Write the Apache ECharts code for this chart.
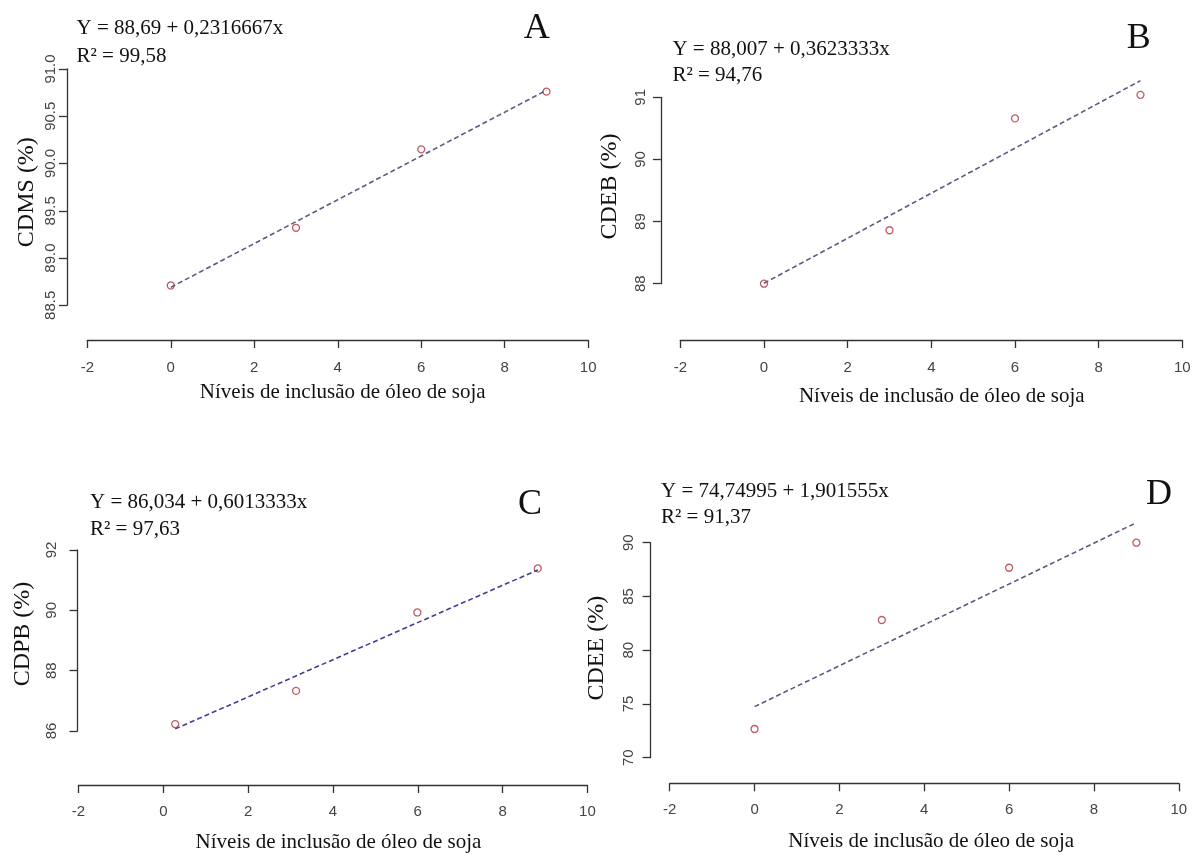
<!DOCTYPE html>
<html>
<head>
<meta charset="utf-8">
<script src="https://cdn.jsdelivr.net/npm/echarts@6/dist/echarts.min.js"></script>
<style>
html,body{margin:0;padding:0;background:#fff;}
#chart{width:1197px;height:856px;}
</style>
</head>
<body>
<div id="chart"></div>
<script>
// ---- data ----
const xLevels = [0, 3, 6, 9];
const cdms = [88.71, 89.32, 90.15, 90.76];
const cdeb = [88.0, 88.86, 90.66, 91.04];
const cdpbX = [0.28, 3.13, 5.99, 8.83];
const cdpb = [86.23, 87.33, 89.93, 91.39];
const cdee = [72.67, 82.81, 87.67, 90.0];

const trendAX = [0, 9], trendAY = [88.69, 90.775];
const trendBX = [0, 9], trendBY = [88.007, 91.268];
const trendCX = [0.28, 8.83], trendCY = [86.07, 91.34];
const trendDX = [0, 9], trendDY = [74.75, 91.86];

const yTitles = ['CDMS (%)', 'CDEB (%)', 'CDPB (%)', 'CDEE (%)'];
const xTitle = 'Níveis de inclusão de óleo de soja';
const equations = ['Y = 88,69 + 0,2316667x', 'Y = 88,007 + 0,3623333x', 'Y = 86,034 + 0,6013333x', 'Y = 74,74995 + 1,901555x'];
const r2Texts = ['R² = 99,58', 'R² = 94,76', 'R² = 97,63', 'R² = 91,37'];
const panelLetters = ['A', 'B', 'C', 'D'];
const yRanges = [[88.5, 91, 0.5], [88, 91, 1], [86, 92, 2], [70, 90, 5]];
const xRange = [-2, 10, 2];

// ---- layout (pixels) ----
const grids = [
  {left: 87.3, top: 69, width: 500.9, height: 236.3},
  {left: 680.3, top: 97.3, width: 502, height: 186.4},
  {left: 78.5, top: 550, width: 508.9, height: 181},
  {left: 669.7, top: 542.7, width: 509.1, height: 215}
];
const yOffsets = [20.3, 19.4, 1, 19.1];
const xOffsets = [34.7, 56.3, 54, 25.6];
const xLabelMargins = [20, 20, 19, 19];
const yLabelMargins = [9, 13, 18, 14];
const yNameGaps = [28, 39, 43, 42];
const yNamePads = [[0,10,0,0],[0,0,0,8],[0,0,0,13],[0,0,0,4]];
const xNamePads = [[0,0,0,10],[0,0,0,21],[0,0,0,11],[0,0,0,14]];
const xNameGaps = [42, 46, 47, 48];
const eqPos = [[76.5, 29.3, 56.7], [672.4, 50, 76], [90, 503.3, 530], [661, 491.7, 518.3]];
const letterPos = [[535.8, 28.3], [1138.8, 38.3], [530, 505], [1157.9, 495]];

const serif = '"Liberation Serif", "Times New Roman", serif';
const sans = '"Liberation Sans", Arial, sans-serif';

const seriesX = [xLevels, xLevels, cdpbX, xLevels];
const seriesY = [cdms, cdeb, cdpb, cdee];
const trendX = [trendAX, trendBX, trendCX, trendDX];
const trendY = [trendAY, trendBY, trendCY, trendDY];
const trendColors = ['#5a5a86', '#5a5a86', '#3f3f9a', '#5a5a86'];

const option = {
  backgroundColor: '#fff',
  animation: false,
  grid: grids.map(g => Object.assign({containLabel: false}, g)),
  xAxis: grids.map((g, i) => ({
    gridIndex: i, type: 'value', min: xRange[0], max: xRange[1], interval: xRange[2],
    offset: xOffsets[i],
    axisLine: {show: true, onZero: false, lineStyle: {color: '#333', width: 1.3}},
    axisTick: {show: true, length: 8, lineStyle: {color: '#333', width: 1.3}},
    axisLabel: {color: '#444', fontFamily: sans, fontSize: 15, margin: xLabelMargins[i]},
    splitLine: {show: false},
    name: xTitle, nameLocation: 'middle', nameGap: xNameGaps[i],
    nameTextStyle: {color: '#111', fontFamily: serif, fontSize: 21, padding: xNamePads[i]}
  })),
  yAxis: grids.map((g, i) => ({
    gridIndex: i, type: 'value', min: yRanges[i][0], max: yRanges[i][1], interval: yRanges[i][2],
    offset: yOffsets[i],
    axisLine: {show: true, onZero: false, lineStyle: {color: '#333', width: 1.3}},
    axisTick: {show: true, length: 8, lineStyle: {color: '#333', width: 1.3}},
    axisLabel: {color: '#444', fontFamily: sans, fontSize: 15, margin: yLabelMargins[i], rotate: 90,
      formatter: v => i === 0 ? v.toFixed(1) : String(v)},
    splitLine: {show: false},
    name: yTitles[i], nameLocation: 'middle', nameGap: yNameGaps[i],
    nameTextStyle: {color: '#111', fontFamily: serif, fontSize: 24, padding: yNamePads[i]}
  })),
  series: [],
  graphic: []
};

for (let i = 0; i < 4; i++) {
  option.series.push({
    type: 'line', xAxisIndex: i, yAxisIndex: i, clip: false,
    data: trendX[i].map((x, k) => [x, trendY[i][k]]),
    symbol: 'none', silent: true,
    lineStyle: {color: trendColors[i], width: 1.6, type: [5, 3]}
  });
  option.series.push({
    type: 'scatter', xAxisIndex: i, yAxisIndex: i, clip: false,
    data: seriesX[i].map((x, k) => [x, seriesY[i][k]]),
    symbol: 'circle', symbolSize: 7,
    itemStyle: {color: 'rgba(255,255,255,0)', borderColor: '#b0353f', borderWidth: 1.3}
  });
  option.graphic.push({
    type: 'text', left: eqPos[i][0], top: eqPos[i][1] - 11,
    style: {text: equations[i], fill: '#111', font: '21px ' + serif}
  });
  option.graphic.push({
    type: 'text', left: eqPos[i][0], top: eqPos[i][2] - 11,
    style: {text: r2Texts[i], fill: '#111', font: '21px ' + serif}
  });
  option.graphic.push({
    type: 'text', left: letterPos[i][0] - 12, top: letterPos[i][1] - 18,
    style: {text: panelLetters[i], fill: '#111', font: '36px ' + serif}
  });
}

const chart = echarts.init(document.getElementById('chart'), null, {renderer: 'canvas'});
chart.setOption(option);
</script>
</body>
</html>
